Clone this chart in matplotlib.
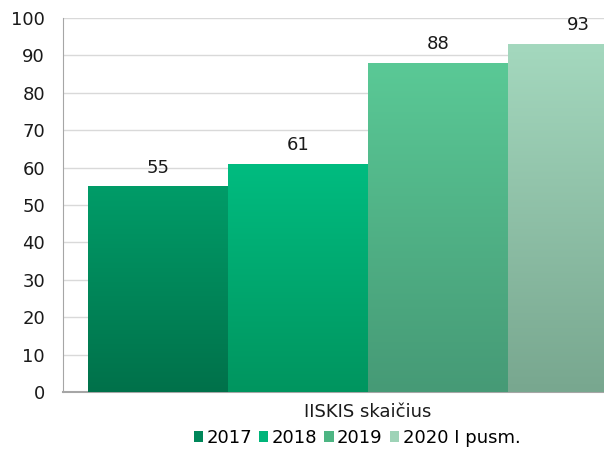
import numpy as np
import matplotlib
matplotlib.use('Agg')
import matplotlib.pyplot as plt
import matplotlib.colors as mcolors
from matplotlib.patches import Patch

plt.rcParams['font.family'] = ['DejaVu Sans']

category = 'IISKIS skaičius'
series = ['2017', '2018', '2019', '2020 I pusm.']
values = [55, 61, 88, 93]
top_colors = ['#009C68', '#00BC80', '#5AC996', '#A4D8BE']
bottom_colors = ['#00714A', '#00955F', '#469A76', '#78A78F']
legend_colors = ['#00875A', '#00B57A', '#4DB583', '#9ED3B7']

fig = plt.figure(figsize=(6.04, 4.53), dpi=100)
ax = fig.add_axes([63 / 604, 61 / 453, 610 / 604, 374 / 453])

bar_w = 140 / 610  # group spans [-0.5, 0.5] on x
n = len(values)
offsets = (np.arange(n) - (n - 1) / 2) * bar_w
group_x = 0.0

for i, (v, off) in enumerate(zip(values, offsets)):
    x0 = group_x + off - bar_w / 2
    bars = ax.bar(group_x + off, v, width=bar_w, color=bottom_colors[i], zorder=3, linewidth=0)
    cmap = mcolors.LinearSegmentedColormap.from_list('g', [bottom_colors[i], top_colors[i]])
    grad = np.linspace(0, 1, 256).reshape(-1, 1)
    im = ax.imshow(grad, cmap=cmap, origin='lower', aspect='auto',
                   extent=[x0, x0 + bar_w, 0, v], zorder=3)
    im.set_clip_path(bars.patches[0])
    ax.annotate(str(v), (group_x + off, v), xytext=(0, 7), textcoords='offset points',
                ha='center', va='bottom', fontsize=13, color='#1a1a1a')

ax.set_xlim(-0.5, 0.5)
ax.set_ylim(0, 100)
ax.set_yticks(range(0, 101, 10))
ax.set_xticks([group_x])
ax.set_xticklabels([category])
ax.tick_params(axis='both', length=0, labelsize=13, colors='#1a1a1a')
ax.tick_params(axis='y', pad=13)
ax.tick_params(axis='x', pad=8)
ax.grid(axis='y', color='#d9d9d9', linewidth=1, zorder=0)
ax.set_axisbelow(True)
for s in ['top', 'right']:
    ax.spines[s].set_visible(False)
ax.spines['left'].set_color('#a6a6a6')
ax.spines['bottom'].set_color('#a6a6a6')
ax.spines['bottom'].set_linewidth(1.5)

handles = [Patch(facecolor=c, edgecolor='none') for c in legend_colors]
fig.legend(handles, series, loc='center', bbox_to_anchor=(357 / 604, 1 - 438 / 453),
           ncol=4, frameon=False, fontsize=13, handlelength=0.5, handleheight=0.5,
           handletextpad=0.2, columnspacing=0.4, borderpad=0)

fig.savefig('out.png', dpi=100)
